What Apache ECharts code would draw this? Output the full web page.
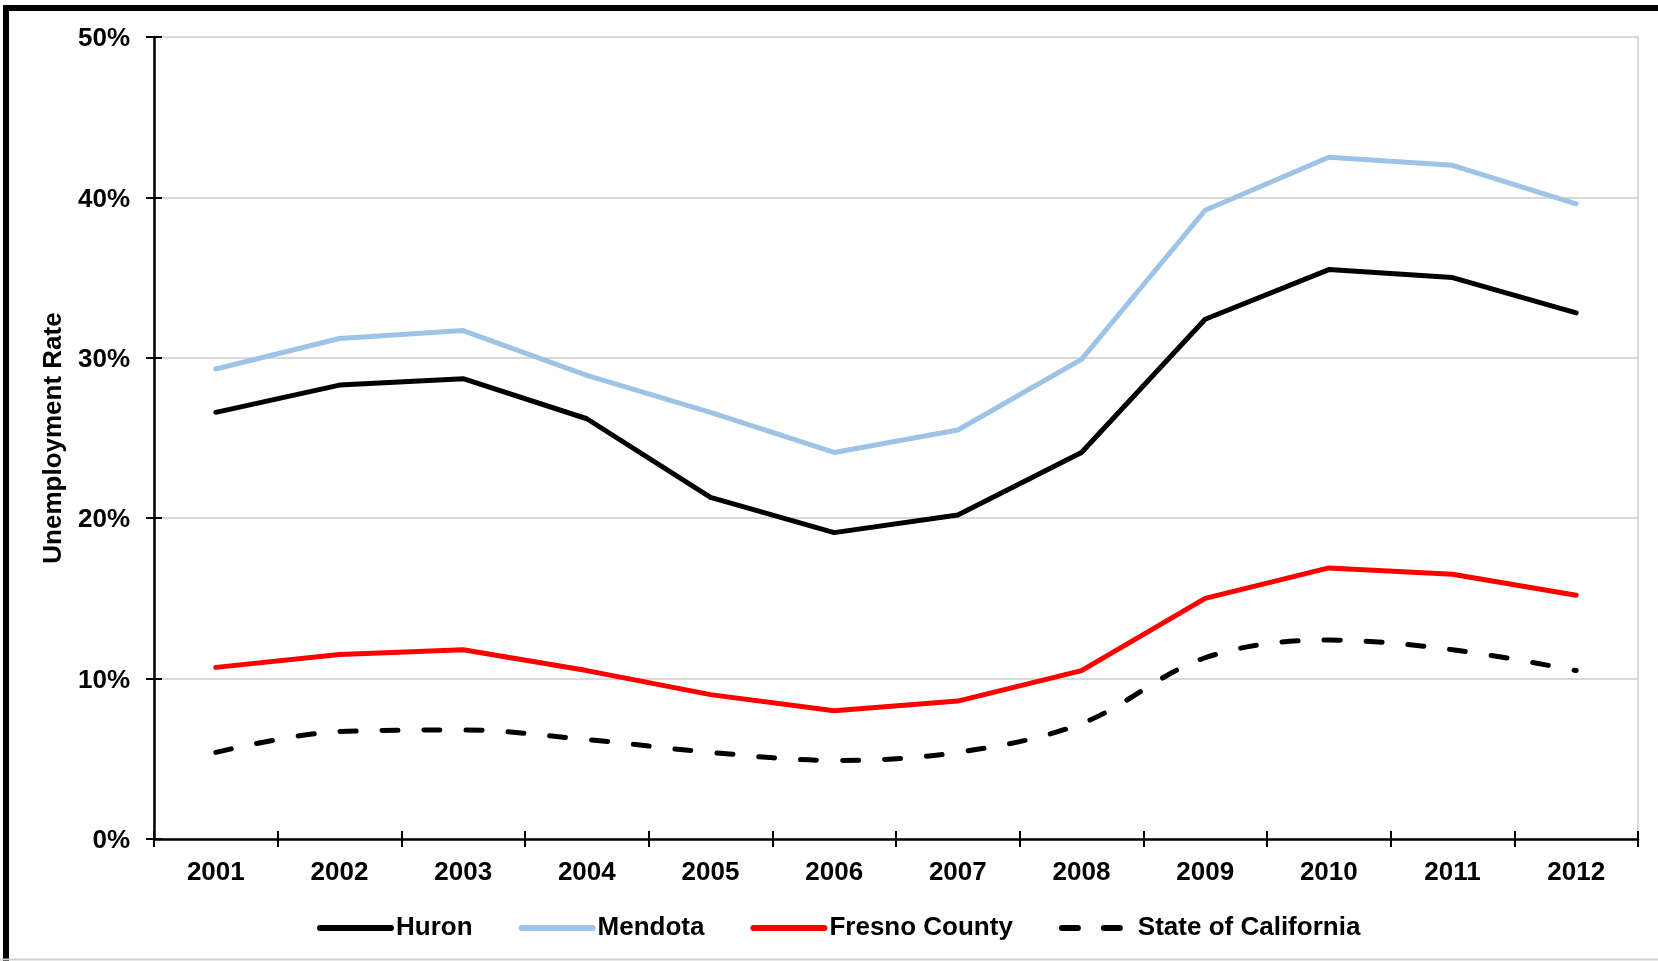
<!DOCTYPE html>
<html>
<head>
<meta charset="utf-8">
<script src="https://cdn.jsdelivr.net/npm/echarts@6/dist/echarts.min.js"></script>
<style>
html,body{margin:0;padding:0;background:#fff;}
#chart{width:1658px;height:961px;}
</style>
</head>
<body>
<div id="chart"></div>
<script>
const years = ['2001','2002','2003','2004','2005','2006','2007','2008','2009','2010','2011','2012'];
const huron = [26.6, 28.3, 28.7, 26.2, 21.3, 19.1, 20.2, 24.1, 32.4, 35.5, 35.0, 32.8];
const mendota = [29.3, 31.2, 31.7, 28.9, 26.6, 24.1, 25.5, 29.9, 39.2, 42.5, 42.0, 39.6];
const fresno = [10.7, 11.5, 11.8, 10.5, 9.0, 8.0, 8.6, 10.5, 15.0, 16.9, 16.5, 15.2];
const california = [5.4, 6.7, 6.8, 6.2, 5.4, 4.9, 5.4, 7.2, 11.3, 12.4, 11.8, 10.5];
const seriesNames = ['Huron', 'Mendota', 'Fresno County', 'State of California'];
const yMin = 0, yMax = 50, yStep = 10;

const FONT = '"Liberation Sans", Arial, sans-serif';
const chart = echarts.init(document.getElementById('chart'), null, {renderer: 'canvas'});

const lbl = {fontFamily: FONT, fontWeight: 'bold', fontSize: 26, color: '#000'};

function lineSeries(name, data, color, extra) {
  return Object.assign({
    name: name, type: 'line', data: data, symbol: 'none', showSymbol: false,
    xAxisIndex: 0, yAxisIndex: 0,
    lineStyle: {color: color, width: 5, cap: 'round', join: 'round'},
    itemStyle: {color: color},
    emphasis: {disabled: true}, animation: false
  }, extra || {});
}

chart.setOption({
  animation: false,
  backgroundColor: '#fff',
  graphic: [
    {type: 'rect', z: 100, shape: {x: 6, y: 8, width: 1700, height: 1000},
     style: {fill: 'none', stroke: '#000', lineWidth: 6}},
    {type: 'line', z: 101, shape: {x1: 0, y1: 959.5, x2: 1658, y2: 959.5},
     style: {stroke: '#d0d0d0', lineWidth: 2}}
  ],
  grid: {left: 154, top: 37, right: 20, bottom: 122, show: true, borderColor: '#d9d9d9', borderWidth: 2, backgroundColor: 'transparent'},
  legend: {
    data: seriesNames,
    left: 312, top: 910,
    itemWidth: 71, itemHeight: 12, itemGap: 46,
    textStyle: Object.assign({}, lbl, {padding: [0, 0, 0, 0]}),
    itemStyle: {opacity: 0},
    lineStyle: {width: 6, cap: 'round'}
  },
  xAxis: [{
    type: 'category', data: years, boundaryGap: true, position: 'bottom',
    axisLine: {show: true, lineStyle: {color: '#000', width: 2.5}},
    axisTick: {show: true, length: 8, lineStyle: {color: '#000', width: 2}},
    axisLabel: Object.assign({}, lbl, {margin: 21}),
    splitLine: {show: false}
  }, {
    type: 'category', data: years, boundaryGap: true, position: 'bottom', gridIndex: 0,
    axisLine: {show: false},
    axisTick: {show: true, inside: true, length: 8, lineStyle: {color: '#000', width: 2}},
    axisLabel: {show: false}, splitLine: {show: false}
  }],
  yAxis: [{
    type: 'value', min: yMin, max: yMax, interval: yStep,
    name: 'Unemployment Rate', nameLocation: 'middle', nameGap: 79,
    nameTextStyle: lbl,
    axisLine: {show: true, lineStyle: {color: '#000', width: 2.5}},
    axisTick: {show: true, length: 8, lineStyle: {color: '#000', width: 2}},
    axisLabel: Object.assign({}, lbl, {margin: 24, verticalAlign: 'top', lineHeight: 4, formatter: '{value}%'}),
    splitLine: {show: true, lineStyle: {color: '#d9d9d9', width: 2}}
  }, {
    type: 'value', min: yMin, max: yMax, interval: yStep, position: 'left', offset: 0,
    axisLine: {show: false},
    axisTick: {show: true, inside: true, length: 8, lineStyle: {color: '#000', width: 2}},
    axisLabel: {show: false}, splitLine: {show: false}
  }],
  series: [
    lineSeries(seriesNames[0], huron, '#000000'),
    lineSeries(seriesNames[1], mendota, '#9dc3e6'),
    lineSeries(seriesNames[2], fresno, '#ff0000'),
    lineSeries(seriesNames[3], california, '#000000', {
      smooth: 0.35,
      lineStyle: {color: '#000', width: 5, type: [16, 26], cap: 'round', join: 'round'}
    })
  ]
});
</script>
</body>
</html>
